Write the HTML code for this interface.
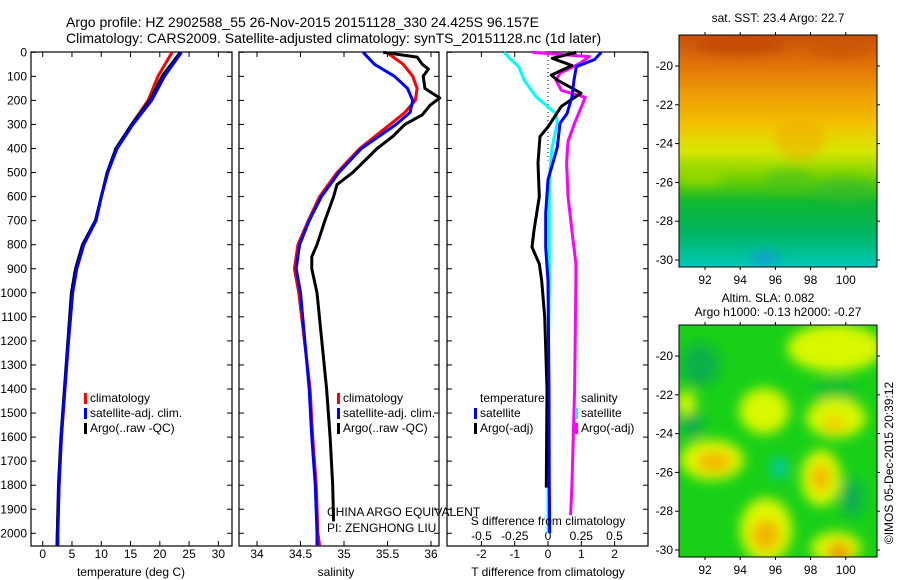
<!DOCTYPE html>
<html><head><meta charset="utf-8"><style>
html,body{margin:0;padding:0;background:#fff}
svg{display:block;font-family:"Liberation Sans",sans-serif}
text{fill:#000}
</style></head><body>
<svg id="chart" width="900" height="580" viewBox="0 0 900 580">
<defs>
<linearGradient id="sstg" x1="0" y1="0" x2="0" y2="1">
<stop offset="0" stop-color="#c8500a"/><stop offset="0.12" stop-color="#e07008"/>
<stop offset="0.25" stop-color="#ee9a04"/><stop offset="0.38" stop-color="#f4c000"/>
<stop offset="0.5" stop-color="#d8e800"/><stop offset="0.62" stop-color="#70d000"/>
<stop offset="0.72" stop-color="#10b830"/><stop offset="0.85" stop-color="#00b460"/>
<stop offset="1" stop-color="#00c8b8"/></linearGradient>
<filter id="blur" x="-50%" y="-50%" width="200%" height="200%"><feGaussianBlur stdDeviation="6"/></filter>
<filter id="blur2" x="-50%" y="-50%" width="200%" height="200%"><feGaussianBlur stdDeviation="5"/></filter>
<clipPath id="m1"><rect x="679" y="35" width="198" height="232"/></clipPath>
<clipPath id="m2"><rect x="679" y="325" width="198" height="232"/></clipPath>
</defs>
<g id="titles">
<text x="66" y="27" font-size="14">Argo profile: HZ 2902588_55 26-Nov-2015 20151128_330 24.425S 96.157E</text>
<text x="66" y="43" font-size="14">Climatology: CARS2009. Satellite-adjusted climatology: synTS_20151128.nc (1d later)</text>
</g>
<g id="p1"></g>
<g id="p2"></g>
<g id="p3"></g>
<g id="maps">
<g clip-path="url(#m1)">
<rect x="679" y="35" width="198" height="232" fill="url(#sstg)"/>
<g filter="url(#blur2)">
<ellipse cx="740" cy="46" rx="45" ry="9" fill="#b8380c" opacity="0.5"/>
<ellipse cx="840" cy="50" rx="30" ry="8" fill="#c04810" opacity="0.4"/>
<ellipse cx="800" cy="140" rx="25" ry="20" fill="#f0a800" opacity="0.5"/>
<ellipse cx="790" cy="180" rx="25" ry="12" fill="#40c020" opacity="0.5"/>
<ellipse cx="845" cy="190" rx="30" ry="14" fill="#30b830" opacity="0.5"/>
<ellipse cx="700" cy="178" rx="25" ry="8" fill="#b0e000" opacity="0.5"/>
<ellipse cx="765" cy="258" rx="14" ry="8" fill="#1890e0" opacity="0.6"/>
</g></g>
<rect x="679" y="35" width="198" height="232" fill="none" stroke="#000"/>
<g clip-path="url(#m2)">
<rect x="679" y="325" width="198" height="232" fill="#18d018"/>
<g filter="url(#blur)">
<ellipse cx="700" cy="365" rx="20" ry="22" fill="#10b048"/>
<ellipse cx="692" cy="425" rx="12" ry="14" fill="#10b048"/>
<ellipse cx="835" cy="348" rx="48" ry="24" fill="#d8f800"/>
<ellipse cx="835" cy="392" rx="22" ry="14" fill="#10c030"/>
<ellipse cx="764" cy="411" rx="25" ry="23" fill="#d8f800"/>
<ellipse cx="836" cy="418" rx="30" ry="20" fill="#d8f800"/>
<ellipse cx="834" cy="424" rx="12" ry="9" fill="#f0d000"/>
<ellipse cx="686" cy="403" rx="10" ry="12" fill="#d8f800"/>
<ellipse cx="712" cy="460" rx="32" ry="20" fill="#e0f800"/>
<ellipse cx="714" cy="462" rx="18" ry="10" fill="#f4b400"/>
<ellipse cx="821" cy="478" rx="20" ry="28" fill="#e0f800"/>
<ellipse cx="821" cy="478" rx="9" ry="14" fill="#f4b000"/>
<ellipse cx="779" cy="468" rx="8" ry="11" fill="#00c8b0"/>
<ellipse cx="852" cy="498" rx="12" ry="20" fill="#10b050"/>
<ellipse cx="766" cy="530" rx="26" ry="32" fill="#e0f800"/>
<ellipse cx="766" cy="535" rx="14" ry="16" fill="#f4b400"/>
<ellipse cx="836" cy="548" rx="25" ry="16" fill="#e0f800"/>
<ellipse cx="839" cy="552" rx="12" ry="9" fill="#f09000"/>
</g></g>
<rect x="679" y="325" width="198" height="232" fill="none" stroke="#000"/>
<text x="778" y="22" font-size="12" text-anchor="middle">sat. SST: 23.4 Argo: 22.7</text>
<text x="768" y="302" font-size="12" text-anchor="middle">Altim. SLA: 0.082</text>
<text x="778" y="316" font-size="12" text-anchor="middle">Argo h1000: -0.13 h2000: -0.27</text>
<text x="893" y="463" font-size="12" text-anchor="middle" transform="rotate(-90 893 463)">©IMOS 05-Dec-2015 20:39:12</text>
</g>
<text x="327" y="516" font-size="12">CHINA ARGO EQUIVALENT</text>
<text x="327" y="532" font-size="12">PI: ZENGHONG LIU</text>
</svg>
<script>
// Depth grids and series
const depthsT = [0,100,200,300,400,500,600,700,800,900,1000,1200,1400,1600,1800,2000,2050];
const tempClim = [22.1,19.7,18.0,15.2,12.6,11.1,10.0,9.1,7.0,5.8,5.1,4.4,3.8,3.2,2.8,2.5,2.4];
const tempSat  = [23.7,20.8,18.6,15.4,12.7,11.1,10.0,9.1,7.0,5.8,5.1,4.4,3.8,3.2,2.8,2.6,2.6];
const tempArgo = [23.5,20.4,18.3,15.2,12.5,11.0,10.0,9.0,6.8,5.6,4.9,4.3,3.7,3.1,2.7,2.5,2.5];
const depthsS = [0,50,100,150,200,250,300,400,500,600,700,800,900,1000,1400,1600,1800,2000,2050];
const salClim = [35.49,35.68,35.79,35.84,35.82,35.70,35.53,35.18,34.92,34.72,34.59,34.47,34.43,34.48,34.61,34.64,34.68,34.70,34.72];
const salSat  = [35.22,35.35,35.58,35.73,35.79,35.76,35.60,35.20,34.94,34.74,34.60,34.49,34.45,34.50,34.60,34.63,34.67,34.69,34.69];
const depthsArgoS = [0,20,50,70,100,150,190,220,260,300,350,400,500,550,600,700,800,850,900,950,1000,1400,1600,1800,1950];
const salArgo = [35.45,35.84,35.90,35.97,35.91,35.93,36.10,35.99,35.90,35.70,35.56,35.38,35.10,34.92,34.88,34.78,34.69,34.63,34.63,34.66,34.69,34.80,34.84,34.87,34.88];
const depthsD = [0,30,60,115,185,255,295,395,530,670,810,950,1400,1800,2000];
const dTsat = [1.6,1.4,0.85,0.78,0.72,0.57,0.36,0.28,0,-0.07,-0.07,0,0.03,0.04,0.05];
const dSsat = [-0.33,-0.28,-0.22,-0.18,-0.09,0.06,0.07,0.03,0.01,0.01,0.01,0.01,0.0,0.0,0.0];
const depthsDT = [0,25,55,95,115,170,225,310,350,460,600,740,810,880,950,1100,1400,1810];
const dTargo = [0.85,0.13,0.72,0.1,0.28,0.99,0.4,0,-0.24,-0.3,-0.26,-0.42,-0.48,-0.26,-0.19,-0.1,-0.03,-0.05];
const depthsDS = [0,18,46,87,116,158,187,228,295,370,460,600,740,880,950,1400,1600,1800,1925];
const dSargo = [-0.12,0.31,0.24,0.09,0.06,0.1,0.28,0.25,0.2,0.15,0.14,0.15,0.18,0.21,0.21,0.2,0.19,0.18,0.17];
const depthTicks = [0,100,200,300,400,500,600,700,800,900,1000,1100,1200,1300,1400,1500,1600,1700,1800,1900,2000];
const tempTicks = [0,5,10,15,20,25,30];
const salTicks = [34,34.5,35,35.5,36];
const tdTicks = [-2,-1,0,1,2];
const sdTicks = [-0.5,-0.25,0,0.25,0.5];
const lonTicks = [92,94,96,98,100];
const latTicks = [-20,-22,-24,-26,-28,-30];

const NS = 'http://www.w3.org/2000/svg';
const svg = document.getElementById('chart');
function mk(tag, attrs, parent){const e=document.createElementNS(NS,tag);for(const k in attrs)e.setAttribute(k,attrs[k]);(parent||svg).appendChild(e);return e;}
const TOP=52, BOT=546;
const yD = d => 52.3 + d*0.2405;
const xT = t => 42.7 + t*5.855;
const xS = s => 257 + (s-34)*87;
const xTd = v => 548 + v*33.3;
const xSd = v => 548 + v*133;

function frame(g,x0,x1){ mk('rect',{x:x0,y:TOP,width:x1-x0,height:BOT-TOP,fill:'none',stroke:'#000','stroke-width':1.2},g); }
function line(g,xs,ds,fx,color,w){
  const pts = ds.map((d,i)=>fx(xs[i]).toFixed(1)+','+yD(d).toFixed(1)).join(' ');
  return mk('polyline',{points:pts,fill:'none',stroke:color,'stroke-width':w||3,'stroke-linejoin':'round'},g);
}
function xticks(g,ticks,fx,labY){
  ticks.forEach(t=>{const x=fx(t);
    mk('line',{x1:x,x2:x,y1:TOP,y2:TOP+5,stroke:'#000'},g);
    mk('line',{x1:x,x2:x,y1:BOT,y2:BOT-5,stroke:'#000'},g);
    if(labY){const tx=mk('text',{x:x,y:labY,'font-size':12,'text-anchor':'middle'},g);tx.textContent=t;
      
      }
  });
}
function yticks(g,x0,x1){depthTicks.forEach(d=>{const y=yD(d);
  mk('line',{x1:x0,x2:x0+5,y1:y,y2:y,stroke:'#000'},g);mk('line',{x1:x1,x2:x1-5,y1:y,y2:y,stroke:'#000'},g);});}
function legend(g,x,y,items){items.forEach((it,i)=>{
  if(it[0]) mk('rect',{x:x,y:y+i*15-9,width:3,height:11,fill:it[0]},g);
  const t=mk('text',{x:x+6,y:y+i*15,'font-size':12},g);t.textContent=it[1];
  
  });}

// Panel 1
const p1=document.getElementById('p1');
frame(p1,31,232); yticks(p1,31,232);
depthTicks.forEach(d=>{const t=mk('text',{x:27,y:yD(d)+4,'font-size':12,'text-anchor':'end'},p1);t.textContent=d;
  
  });
xticks(p1,tempTicks,xT,558);
line(p1,tempClim,depthsT,xT,'#f00');
line(p1,tempArgo,depthsT,xT,'#000');
line(p1,tempSat,depthsT,xT,'#00f');
legend(p1,84,402,[['#f00','climatology'],['#00f','satellite-adj. clim.'],['#000','Argo(..raw -QC)']]);
let t=mk('text',{x:131,y:576,'font-size':12,'text-anchor':'middle'},p1);t.textContent='temperature (deg C)';



// Panel 2
const p2=document.getElementById('p2');
frame(p2,239,439); yticks(p2,239,439);
xticks(p2,salTicks,xS,558);
line(p2,salClim,depthsS,xS,'#f00');
line(p2,salSat,depthsS,xS,'#00f');
line(p2,salArgo,depthsArgoS,xS,'#000');
legend(p2,337,402,[['#f00','climatology'],['#00f','satellite-adj. clim.'],['#000','Argo(..raw -QC)']]);
t=mk('text',{x:336,y:576,'font-size':12,'text-anchor':'middle'},p2);t.textContent='salinity';



// Panel 3
const p3=document.getElementById('p3');
frame(p3,447,648); yticks(p3,447,648);
xticks(p3,tdTicks,xTd,558);
sdTicks.forEach(v=>{const tx=mk('text',{x:xSd(v),y:540,'font-size':12,'text-anchor':'middle'},p3);tx.textContent=v;
  
  });
mk('line',{x1:548,x2:548,y1:TOP,y2:yD(450),stroke:'#000','stroke-dasharray':'1,3'},p3);
line(p3,dSsat,depthsD,xSd,'#00ffff');
line(p3,dSargo,depthsDS,xSd,'#ff00ff');
line(p3,dTargo,depthsDT,xTd,'#000');
line(p3,dTsat,depthsD,xTd,'#00f');
legend(p3,474,402,[[null,'temperature'],['#00f','satellite'],['#000','Argo(-adj)']]);
legend(p3,575,402,[[null,'salinity'],['#00ffff','satellite'],['#ff00ff','Argo(-adj)']]);
t=mk('text',{x:548,y:525,'font-size':12,'text-anchor':'middle'},p3);t.textContent='S difference from climatology';


t=mk('text',{x:548,y:576,'font-size':12,'text-anchor':'middle'},p3);t.textContent='T difference from climatology';



// Map axes
const maps=document.getElementById('maps');
const xLon = l => 705 + (l-92)*17.6;
[[35,267],[325,557]].forEach(([y0,y1])=>{
  const yLat = la => y0+31 + (-20-la)*19.4;
  lonTicks.forEach(l=>{const x=xLon(l);
    mk('line',{x1:x,x2:x,y1:y0,y2:y0-3,stroke:'#000'},maps);
    mk('line',{x1:x,x2:x,y1:y1,y2:y1+3,stroke:'#000'},maps);
    const tx=mk('text',{x:x,y:y1+17,'font-size':12,'text-anchor':'middle'},maps);tx.textContent=l;
    
    });
  latTicks.forEach(la=>{const y=yLat(la);
    mk('line',{x1:679,x2:675,y1:y,y2:y,stroke:'#000'},maps);
    mk('line',{x1:877,x2:880,y1:y,y2:y,stroke:'#000'},maps);
    const tx=mk('text',{x:673,y:y+4,'font-size':12,'text-anchor':'end'},maps);tx.textContent=la;
    
    });
});
</script>
</body></html>
